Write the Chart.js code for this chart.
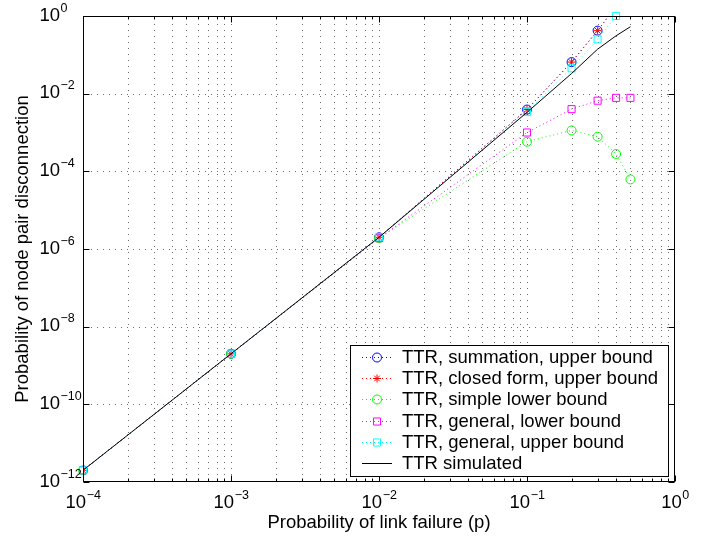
<!DOCTYPE html>
<html><head><meta charset="utf-8">
<script src="https://cdn.jsdelivr.net/npm/chart.js@4"></script>
<style>html,body{margin:0;padding:0;background:#fff}#wrap{width:713px;height:539px}</style>
</head><body><div id="wrap"><canvas id="c" width="713" height="539"></canvas></div>
<script>
// ---- data ----
const pSummation = [1e-4, 1e-3, 1e-2, 0.1, 0.2, 0.3, 0.4];
const summationUpper = [2e-12, 2e-9, 2e-6, 3.9e-3, 0.065, 0.42, 1.8];
const pClosed = [1e-4, 1e-3, 1e-2, 0.1, 0.2, 0.3, 0.4];
const closedFormUpper = [2e-12, 2e-9, 2e-6, 3.9e-3, 0.065, 0.42, 1.8];
const pSimple = [1e-4, 1e-3, 1e-2, 0.1, 0.2, 0.3, 0.4, 0.5];
const simpleLower = [2e-12, 2e-9, 1.9e-6, 5.8e-4, 1.13e-3, 7.8e-4, 2.8e-4, 6.2e-5];
const pGenLower = [1e-4, 1e-3, 1e-2, 0.1, 0.2, 0.3, 0.4, 0.5];
const generalLower = [2e-12, 2e-9, 1.9e-6, 1.0e-3, 4.0e-3, 6.6e-3, 7.8e-3, 7.8e-3];
const pGenUpper = [1e-4, 1e-3, 1e-2, 0.1, 0.2, 0.3, 0.4];
const generalUpper = [2e-12, 2e-9, 2e-6, 3.4e-3, 0.045, 0.25, 1.0];
const pSim = [1e-4, 1e-3, 1e-2, 0.1, 0.2, 0.3, 0.4, 0.5];
const simulated = [2e-12, 2e-9, 2e-6, 3.3e-3, 0.033, 0.14, 0.31, 0.53];
const seriesLabels = ['TTR, summation, upper bound', 'TTR, closed form, upper bound', 'TTR, simple lower bound', 'TTR, general, lower bound', 'TTR, general, upper bound', 'TTR simulated'];
const xTickExps = [-4, -3, -2, -1, 0];
const yTickExps = [0, -2, -4, -6, -8, -10, -12];
const xTitle = 'Probability of link failure (p)';
const yTitle = 'Probability of node pair disconnection';

const FONT = "'Liberation Sans', Arial, Helvetica, sans-serif";
const pts = (xs, ys) => xs.map((v, i) => ({x: v, y: ys[i]}));

const styles = [
  {color: '#0000ff', pointStyle: 'circle', r: 4.5, dash: [1, 3]},
  {color: '#ff0000', pointStyle: 'star', r: 4, dash: [1, 3]},
  {color: '#00ff00', pointStyle: 'circle', r: 4.5, dash: [1, 3]},
  {color: '#ff00ff', pointStyle: 'rect', r: 5, dash: [1, 3]},
  {color: '#00ffff', pointStyle: 'rect', r: 5, dash: [1, 3]},
  {color: '#000000', pointStyle: false, r: 0, dash: []}
];
const seriesData = [
  pts(pSummation, summationUpper),
  pts(pClosed, closedFormUpper),
  pts(pSimple, simpleLower),
  pts(pGenLower, generalLower),
  pts(pGenUpper, generalUpper),
  pts(pSim, simulated)
];
const clips = [0, 0, 6, 6, 6, 0];

const datasets = seriesData.map((d, i) => ({
  label: seriesLabels[i],
  data: d,
  order: 5 - i,
  borderColor: styles[i].color,
  borderWidth: 1,
  borderDash: styles[i].dash,
  fill: false,
  tension: 0,
  pointStyle: styles[i].pointStyle,
  pointRadius: styles[i].r,
  pointHoverRadius: styles[i].r,
  pointBorderColor: styles[i].color,
  pointBackgroundColor: 'rgba(0,0,0,0)',
  pointBorderWidth: 1,
  clip: clips[i]
}));

function seg(ctx, x1, y1, x2, y2) { ctx.beginPath(); ctx.moveTo(x1, y1); ctx.lineTo(x2, y2); ctx.stroke(); }

function drawMarker(ctx, style, x, y, r, color) {
  ctx.save();
  ctx.strokeStyle = color; ctx.lineWidth = 1; ctx.setLineDash([]);
  ctx.beginPath();
  if (style === 'circle') { ctx.arc(x, y, r, 0, Math.PI * 2); }
  else if (style === 'rect') { const s = r / Math.SQRT2; ctx.rect(x - s, y - s, 2 * s, 2 * s); }
  else if (style === 'star') {
    ctx.moveTo(x - r, y); ctx.lineTo(x + r, y); ctx.moveTo(x, y - r); ctx.lineTo(x, y + r);
    const d = r * Math.SQRT1_2;
    ctx.moveTo(x - d, y - d); ctx.lineTo(x + d, y + d); ctx.moveTo(x - d, y + d); ctx.lineTo(x + d, y - d);
  }
  ctx.stroke();
  ctx.restore();
}

function pow10Label(ctx, exp, x, yMid, align) {
  const base = '10';
  const sup = exp < 0 ? '\u2212' + Math.abs(exp) : String(exp);
  ctx.font = '18.5px ' + FONT;
  const wb = ctx.measureText(base).width;
  ctx.font = '12.5px ' + FONT;
  const ws = ctx.measureText(sup).width;
  let x0;
  if (align === 'center') x0 = x - (wb + ws) / 2;
  else x0 = x - wb;
  ctx.fillStyle = '#000';
  ctx.textAlign = 'left';
  ctx.textBaseline = 'alphabetic';
  ctx.font = '18.5px ' + FONT;
  ctx.fillText(base, x0, yMid + 6.5);
  ctx.font = '12.5px ' + FONT;
  ctx.fillText(sup, x0 + wb + 0.5, yMid - 2.5);
}

const framePlugin = {
  id: 'matlabFrame',
  beforeDatasetsDraw(chart) {
    const {ctx, chartArea: a, scales: {x, y}} = chart;
    ctx.save();
    ctx.strokeStyle = '#6e6e6e';
    ctx.lineWidth = 1;
    ctx.setLineDash([1, 5]);
    for (let e = -4; e < 0; e++) {
      for (let k = 1; k < 10; k++) {
        if (e === -4 && k === 1) continue;
        const px = Math.round(x.getPixelForValue(k * Math.pow(10, e))) + 0.5;
        seg(ctx, px, a.top + 2, px, a.bottom);
      }
    }
    for (const e of yTickExps) {
      if (e === 0 || e === -12) continue;
      const py = Math.round(y.getPixelForValue(Math.pow(10, e))) + 0.5;
      seg(ctx, a.left + 2, py, a.right, py);
    }
    ctx.restore();
  },
  afterDatasetsDraw(chart) {
    const {ctx, chartArea: a, scales: {x, y}} = chart;
    ctx.save();
    ctx.strokeStyle = '#000';
    ctx.lineWidth = 1;
    ctx.setLineDash([]);
    const L = Math.round(a.left) + 0.5, R = Math.round(a.right) - 0.5;
    const T = Math.round(a.top) + 0.5, B = Math.round(a.bottom) - 0.5;
    ctx.strokeRect(L, T, R - L, B - T);
    for (let e = -4; e <= 0; e++) {
      for (let k = 1; k < 10; k++) {
        if (e === 0 && k > 1) break;
        const px = Math.round(x.getPixelForValue(k * Math.pow(10, e))) + 0.5;
        const len = k === 1 ? 6 : 3;
        seg(ctx, px, B, px, B - len);
        seg(ctx, px, T, px, T + len);
      }
    }
    for (const e of yTickExps) {
      const py = Math.round(y.getPixelForValue(Math.pow(10, e))) + 0.5;
      seg(ctx, L, py, L + 6, py);
      seg(ctx, R, py, R - 6, py);
    }
    ctx.restore();
  },
  afterDraw(chart) {
    const {ctx, chartArea: a, scales: {x, y}} = chart;
    ctx.save();
    for (const e of xTickExps) {
      pow10Label(ctx, e, x.getPixelForValue(Math.pow(10, e)), 501, 'center');
    }
    for (const e of yTickExps) {
      pow10Label(ctx, e, 60, y.getPixelForValue(Math.pow(10, e)) - 2, 'right');
    }
    ctx.fillStyle = '#000';
    ctx.font = '18.5px ' + FONT;
    ctx.textAlign = 'center';
    ctx.textBaseline = 'middle';
    ctx.fillText(xTitle, (a.left + a.right) / 2, 523);
    ctx.save();
    ctx.translate(23, (a.top + a.bottom) / 2);
    ctx.rotate(-Math.PI / 2);
    ctx.fillText(yTitle, 0, 0);
    ctx.restore();
    const bx = 350.5, by = 345.5, bw = 318, bh = 131;
    ctx.fillStyle = '#fff';
    ctx.fillRect(bx, by, bw, bh);
    ctx.strokeStyle = '#000';
    ctx.lineWidth = 1;
    ctx.strokeRect(bx, by, bw, bh);
    const rowY0 = 357, rowH = 21.2;
    for (let i = 0; i < seriesLabels.length; i++) {
      const ry = Math.round(rowY0 + i * rowH) + 0.5;
      const st = styles[i];
      ctx.save();
      ctx.strokeStyle = st.color;
      ctx.lineWidth = 1;
      ctx.setLineDash(st.dash);
      seg(ctx, 362, ry, 392, ry);
      ctx.restore();
      if (st.pointStyle) drawMarker(ctx, st.pointStyle, 377, ry, st.r, st.color);
      ctx.fillStyle = '#000';
      ctx.font = '18.5px ' + FONT;
      ctx.textAlign = 'left';
      ctx.textBaseline = 'middle';
      ctx.fillText(seriesLabels[i], 402, ry);
    }
    ctx.restore();
  }
};

new Chart(document.getElementById('c'), {
  type: 'line',
  data: {datasets},
  options: {
    responsive: false,
    animation: false,
    devicePixelRatio: 1,
    layout: {padding: {left: 0, top: 16, right: 38, bottom: 0}},
    plugins: {legend: {display: false}, tooltip: {enabled: false}},
    events: [],
    scales: {
      x: {type: 'logarithmic', min: 1e-4, max: 1, ticks: {display: false}, grid: {display: false}, border: {display: false},
          afterFit(s) { s.height = 57; }},
      y: {type: 'logarithmic', min: 1e-12, max: 1, ticks: {display: false}, grid: {display: false}, border: {display: false},
          afterFit(s) { s.width = 83; }}
    }
  },
  plugins: [framePlugin]
});
</script>
</body></html>
